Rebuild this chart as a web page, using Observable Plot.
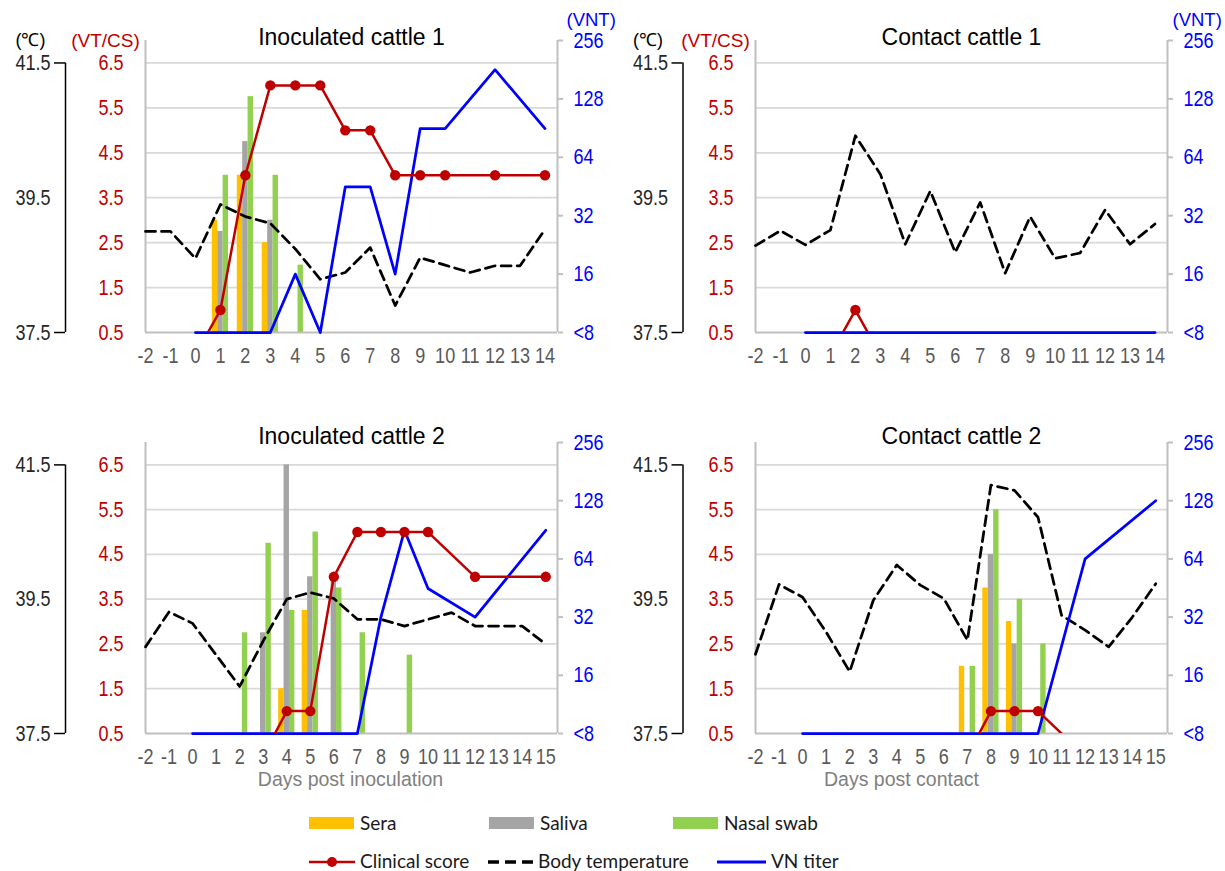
<!DOCTYPE html>
<html>
<head>
<meta charset="utf-8">
<script src="https://cdn.jsdelivr.net/npm/d3@7"></script>
<script src="https://cdn.jsdelivr.net/npm/@observablehq/plot@0.6"></script>
<style>
  body { margin: 0; background: #fff; }
  #root { position: relative; width: 1225px; height: 871px; overflow: hidden; font-family: "Liberation Sans", Arial, sans-serif; }
  .panel { position: absolute; }
  .leg { position: absolute; font-family: Lato, "Open Sans", sans-serif; font-size: 19px; color: #1a1a1a; line-height: 1; white-space: nowrap; }
</style>
</head>
<body>
<div id="root"></div>
<script>
// ---------------- DATA ----------------
const daysTop = [-2,-1,0,1,2,3,4,5,6,7,8,9,10,11,12,13,14];
const daysBottom = [-2,-1,0,1,2,3,4,5,6,7,8,9,10,11,12,13,14,15];

// Inoculated cattle 1
const ic1Temp = [39.0,39.0,38.6,39.4,39.22,39.12,38.74,38.29,38.39,38.76,37.9,38.61,38.5,38.39,38.49,38.49,39.03];
const ic1CsDays = [0,1,2,3,4,5,6,7,8,9,10,12,14];
const ic1Cs = [0,1,4,6,6,6,5,5,4,4,4,4,4];
const ic1VntDays = [0,1,2,3,4,5,6,7,8,9,10,12,14];
const ic1Vnt = [8,8,8,8,16,8,45,45,16,90,90,181,90];
const ic1BarDays = [1,2,3,4];
const ic1Sera = [3.0,4.0,2.5,null];
const ic1Saliva = [2.75,4.75,3.0,null];
const ic1Nasal = [4.0,5.75,4.0,2.0];

// Contact cattle 1
const cc1Temp = [38.79,39.01,38.8,39.02,40.42,39.85,38.81,39.6,38.69,39.43,38.38,39.22,38.6,38.68,39.32,38.81,39.11];
const cc1CsDays = [0,1,2,3,4,5,6,7,8,9,10,11,12,13,14];
const cc1Cs = [0,0,1,0,0,0,0,0,0,0,0,0,0,0,0];
const cc1VntDays = [0,1,2,3,4,5,6,7,8,9,10,11,12,13,14];
const cc1Vnt = [8,8,8,8,8,8,8,8,8,8,8,8,8,8,8];
const cc1BarDays = [];
const cc1Sera = [];
const cc1Saliva = [];
const cc1Nasal = [];

// Inoculated cattle 2
const ic2Temp = [38.79,39.31,39.14,38.67,38.2,38.88,39.5,39.6,39.51,39.2,39.2,39.1,39.2,39.3,39.1,39.1,39.1,38.83];
const ic2CsDays = [0,1,2,3,4,5,6,7,8,9,10,12,15];
const ic2Cs = [0,0,0,0,1,1,4,5,5,5,5,4,4];
const ic2VntDays = [0,1,2,3,4,5,6,7,8,9,10,12,15];
const ic2Vnt = [8,8,8,8,8,8,8,8,32,90,45,32,90];
const ic2BarDays = [2,3,4,5,6,7,9];
const ic2Sera = [null,null,1.5,3.25,null,null,null];
const ic2Saliva = [null,2.75,6.5,4.0,4.0,null,null];
const ic2Nasal = [2.75,4.75,3.25,5.0,3.75,2.75,2.25];

// Contact cattle 2
const cc2Temp = [38.68,39.72,39.53,39.01,38.42,39.48,40.01,39.71,39.51,38.89,41.2,41.12,40.72,39.26,39.04,38.79,39.23,39.73];
const cc2CsDays = [0,1,2,3,4,5,6,7,8,9,10,12];
const cc2Cs = [0,0,0,0,0,0,0,0,1,1,1,0];
const cc2VntDays = [0,1,2,3,4,5,6,7,8,9,10,12,15];
const cc2Vnt = [8,8,8,8,8,8,8,8,8,8,8,64,128];
const cc2BarDays = [7,8,9,10];
const cc2Sera = [2.0,3.75,3.0,null];
const cc2Saliva = [null,4.5,2.5,null];
const cc2Nasal = [2.0,5.5,3.5,2.5];

// Axis tick values
const vtTicks = [0.5,1.5,2.5,3.5,4.5,5.5,6.5];
const vntTicks = [8,16,32,64,128,256];
const tempEndTicks = [37.5,41.5];
const tempMidTicks = [39.5];

const legendBars = ["Sera","Saliva","Nasal swab"];
const legendLines = ["Clinical score","Body temperature","VN titer"];

// ---------------- STYLE ----------------
const C = {sera:"#FFC000", saliva:"#A5A5A5", nasal:"#92D050", cs:"#C00000", vnt:"#0000FF", temp:"#000000",
           grid:"#D9D9D9", axis:"#BFBFBF", xlab:"#595959"};

// Conversions onto the shared VT/CS scale (left axis)
const tempToCs = t => 0.5 + (t - 37.5) * 1.5;
const vntToCs = v => 0.5 + Math.log2(v / 8) * 1.3;
const csToTemp = c => 37.5 + (c - 0.5) / 1.5;
const csToVnt = c => Math.round(8 * Math.pow(2, (c - 0.5) / 1.3));

function narrowTicks(svg, f) {
  svg.querySelectorAll('g[aria-label$="tick label"] text').forEach(t => {
    const x = +t.getAttribute("x") || 0, y = +t.getAttribute("y") || 0;
    const tr = t.getAttribute("transform") || "";
    t.setAttribute("transform", `${tr} translate(${x},${y}) scale(${f},1) translate(${-x},${-y})`);
  });
}

function panel(p) {
  const W = 612, ML = 145, MR = 55;
  const pxPerDay = (W - ML - MR) / (p.xMax + 2);
  const bw = 5.4 / pxPerDay;
  const rows = (days, vals) => days.map((d, i) => ({day: d, v: vals[i]})).filter(r => r.v != null);
  const temp = rows(p.days, p.temp);
  const cs = rows(p.csDays, p.cs);
  const vnt = rows(p.vntDays, p.vnt);
  const barSets = [[p.sera, C.sera, -1], [p.saliva, C.saliva, 0], [p.nasal, C.nasal, 1]];
  const tickFont = 22;

  const marks = [
    Plot.gridY(vtTicks.slice(1), {stroke: C.grid, strokeOpacity: 1, strokeWidth: 1.75}),
    ...barSets.map(([vals, col, o]) => Plot.rect(rows(p.barDays, vals), {
      x1: d => d.day + o * bw - bw / 2, x2: d => d.day + o * bw + bw / 2, y1: 0.5, y2: "v", fill: col
    })),
    Plot.ruleY([0.5], {stroke: C.axis, strokeWidth: 2}),
    Plot.ruleX([-2], {y1: 0.5, y2: 7, stroke: C.axis, strokeWidth: 2}),
    Plot.ruleX([p.xMax], {y1: 0.5, y2: 7, stroke: C.axis, strokeWidth: 2}),
    Plot.line(temp, {x: "day", y: d => tempToCs(d.v), stroke: C.temp, strokeWidth: 2.75, strokeDasharray: "10,6"}),
    Plot.line(vnt, {x: "day", y: d => vntToCs(d.v), stroke: C.vnt, strokeWidth: 2.75}),
    Plot.line(cs, {x: "day", y: "v", stroke: C.cs, strokeWidth: 2.5, clip: true}),
    Plot.dot(cs, {x: "day", y: "v", r: 5.2, fill: C.cs, clip: true}),
    // x axis
    Plot.axisX(p.days, {anchor: "bottom", label: null, tickSize: 0, tickPadding: 15, fontSize: tickFont, fill: C.xlab, tickFormat: d => String(d)}),
    // VT/CS axis
    Plot.axisY(vtTicks, {anchor: "left", label: null, tickSize: 0, tickPadding: 22, fontSize: tickFont, fill: C.cs, tickFormat: d => d.toFixed(1)}),
    // VNT axis
    Plot.axisY(vntTicks.map(vntToCs), {anchor: "right", label: null, tickSize: 5, tickPadding: 11, fontSize: tickFont, stroke: C.axis, strokeWidth: 2,
      fill: C.vnt, tickFormat: d => { const v = csToVnt(d); return v === 8 ? "<8" : String(v); }}),
    // temperature axis
    Plot.ruleX([-2], {y1: tempToCs(tempEndTicks[0]), y2: tempToCs(tempEndTicks[1]), dx: p.tempDx, stroke: "#000", strokeWidth: 1.5}),
    Plot.axisY(tempEndTicks.map(tempToCs), {anchor: "left", label: null, tickSize: 11, tickPadding: 4, dx: p.tempDx, fontSize: tickFont,
      stroke: "#000", strokeWidth: 1.5, fill: "#262626", tickFormat: d => csToTemp(d).toFixed(1)}),
    Plot.axisY(tempMidTicks.map(tempToCs), {anchor: "left", label: null, tickSize: 0, tickPadding: 15, dx: p.tempDx, fontSize: tickFont,
      fill: "#262626", tickFormat: d => csToTemp(d).toFixed(1)}),
    // title
    Plot.text([p.title], {text: d => d, frameAnchor: "top", dy: p.titleDy, fontSize: 23, fill: "#000"})
  ];
  if (p.units) {
    marks.push(
      Plot.text(["(℃)"], {text: d => d, frameAnchor: "top-left", dx: p.tempDx - 35, dy: -7, fontSize: 18, fill: "#000", textAnchor: "middle"}),
      Plot.text(["(VT/CS)"], {text: d => d, frameAnchor: "top-left", dx: -40, dy: -7, fontSize: 19, fill: C.cs, textAnchor: "middle"}),
      Plot.text(["(VNT)"], {text: d => d, frameAnchor: "top-right", dx: p.vntDx, dy: -28, fontSize: 18.5, fill: C.vnt, textAnchor: "start"})
    );
  }
  if (p.xlabel) {
    marks.push(Plot.text([p.xlabel], {text: d => d, frameAnchor: "bottom", dx: p.xlabelDx, dy: 52, fontSize: 19.5, fill: "#7F7F7F"}));
  }
  const svg = Plot.plot({
    width: W, height: p.height,
    marginLeft: ML, marginRight: MR, marginTop: p.mt, marginBottom: p.mb,
    style: {fontFamily: '"Liberation Sans", Arial, sans-serif', background: "transparent", overflow: "visible"},
    x: {domain: [-2, p.xMax], label: null},
    y: {domain: [0.5, 7], label: null},
    marks
  });
  narrowTicks(svg, 0.82);
  svg.classList.add("panel");
  svg.style.left = p.left + "px";
  svg.style.top = p.top + "px";
  document.getElementById("root").appendChild(svg);
}

const topCfg = {height: 400, mt: 40, mb: 68, xMax: 14.5, days: daysTop, titleDy: -12, units: true, top: 0};
const botCfg = {height: 400, mt: 42, mb: 67, xMax: 15.5, days: daysBottom, titleDy: -15, units: false, top: 400};

panel({...topCfg, left: 0, tempDx: -80, vntDx: 9, title: "Inoculated cattle 1", temp: ic1Temp, csDays: ic1CsDays, cs: ic1Cs,
  vntDays: ic1VntDays, vnt: ic1Vnt, barDays: ic1BarDays, sera: ic1Sera, saliva: ic1Saliva, nasal: ic1Nasal});
panel({...topCfg, left: 610, tempDx: -72.5, vntDx: 5, title: "Contact cattle 1", temp: cc1Temp, csDays: cc1CsDays, cs: cc1Cs,
  vntDays: cc1VntDays, vnt: cc1Vnt, barDays: cc1BarDays, sera: cc1Sera, saliva: cc1Saliva, nasal: cc1Nasal});
panel({...botCfg, left: 0, tempDx: -80, title: "Inoculated cattle 2", temp: ic2Temp, csDays: ic2CsDays, cs: ic2Cs,
  vntDays: ic2VntDays, vnt: ic2Vnt, barDays: ic2BarDays, sera: ic2Sera, saliva: ic2Saliva, nasal: ic2Nasal,
  xlabel: "Days post inoculation", xlabelDx: -1});
panel({...botCfg, left: 610, tempDx: -72.5, title: "Contact cattle 2", temp: cc2Temp, csDays: cc2CsDays, cs: cc2Cs,
  vntDays: cc2VntDays, vnt: cc2Vnt, barDays: cc2BarDays, sera: cc2Sera, saliva: cc2Saliva, nasal: cc2Nasal,
  xlabel: "Days post contact", xlabelDx: -60});

// ---------------- LEGEND ----------------
const root = d3.select("#root");
const barCols = [C.sera, C.saliva, C.nasal];
const legX = [309, 489, 673];
legendBars.forEach((name, i) => {
  root.append("div").attr("class", "leg")
    .style("left", legX[i] + "px").style("top", "817px")
    .style("width", "45px").style("height", "12px").style("background", barCols[i]);
  root.append("div").attr("class", "leg").style("left", (legX[i] + 51) + "px").style("top", "813px").text(name);
});
const lineX = [309, 488, 717];
const lineW = [46, 45, 49];
const lineStyles = [
  {stroke: C.cs, dash: null, dot: true, w: 2.5},
  {stroke: "#000", dash: "11,6", dot: false, w: 3.5},
  {stroke: C.vnt, dash: null, dot: false, w: 3}
];
legendLines.forEach((name, i) => {
  const s = lineStyles[i];
  const svg = root.append("svg").attr("class", "leg").style("left", lineX[i] + "px").style("top", "852px")
    .attr("width", lineW[i]).attr("height", 20);
  svg.append("line").attr("x1", 0).attr("x2", lineW[i]).attr("y1", 10).attr("y2", 10)
    .attr("stroke", s.stroke).attr("stroke-width", s.w).attr("stroke-dasharray", s.dash);
  if (s.dot) svg.append("circle").attr("cx", lineW[i] / 2).attr("cy", 10).attr("r", 5).attr("fill", s.stroke);
  root.append("div").attr("class", "leg").style("left", (lineX[i] + lineW[i] + 5) + "px").style("top", "851px").text(name);
});
</script>
</body>
</html>
